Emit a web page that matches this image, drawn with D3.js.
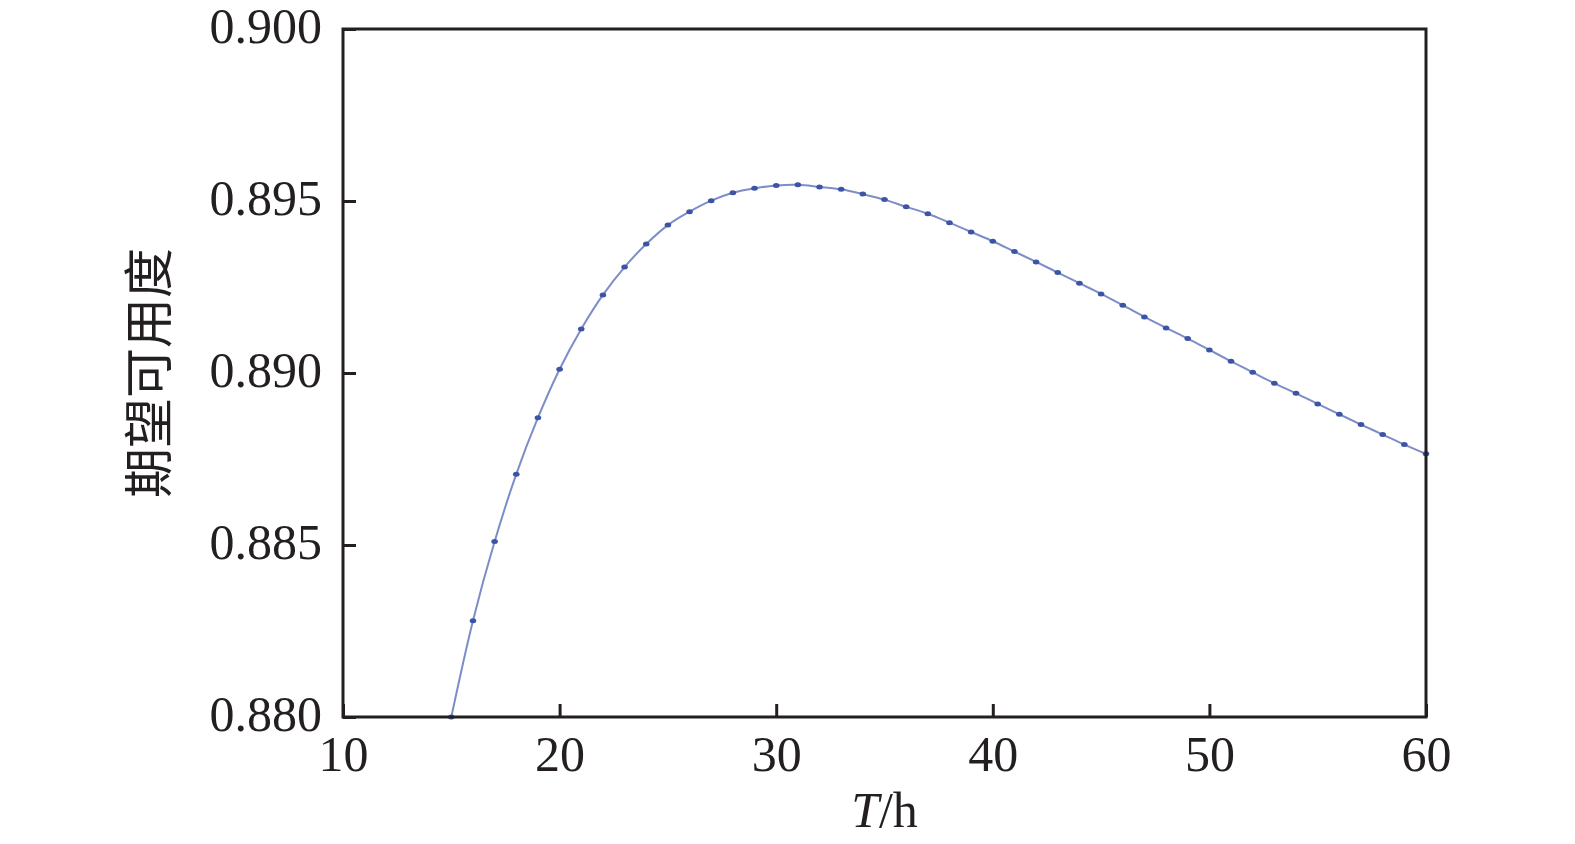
<!DOCTYPE html>
<html>
<head>
<meta charset="utf-8">
<script src="https://cdn.jsdelivr.net/npm/d3@7.9.0/dist/d3.min.js"></script>
<style>
  body { margin: 0; background: #fff; }
  svg { display: block; }
</style>
</head>
<body>
<div id="chart"></div>
<script>
// T in hours, expected availability
const hours = [15, 16, 17, 18, 19, 20, 21, 22, 23, 24, 25, 26, 27, 28, 29, 30,
  31, 32, 33, 34, 35, 36, 37, 38, 39, 40, 41, 42, 43, 44, 45, 46, 47, 48, 49, 50,
  51, 52, 53, 54, 55, 56, 57, 58, 59, 60];
const availability = [0.88000, 0.88280, 0.88510, 0.88706, 0.88870, 0.89011,
  0.89128, 0.89227, 0.89308, 0.89375, 0.89430, 0.89469, 0.89501, 0.89524,
  0.89537, 0.89545, 0.89547, 0.89541, 0.89534, 0.89520, 0.89504, 0.89483,
  0.89463, 0.89437, 0.89410, 0.89383, 0.89353, 0.89323, 0.89292, 0.89261,
  0.89230, 0.89197, 0.89163, 0.89131, 0.89100, 0.89067, 0.89034, 0.89002,
  0.88970, 0.88941, 0.88910, 0.88880, 0.88850, 0.88821, 0.88792, 0.88765];
const xTicks = [10, 20, 30, 40, 50, 60];
const yTicks = [0.880, 0.885, 0.890, 0.895, 0.900];

const width = 1575;
const height = 844;
const margin = { top: 29, right: 149, bottom: 127, left: 343 };

const points = hours.map((t, i) => ({ t, a: availability[i] }));

const svg = d3.select('#chart')
  .append('svg')
  .attr('width', width)
  .attr('height', height);

const xScale = d3.scaleLinear()
  .domain([10, 60])
  .range([margin.left, width - margin.right]);

const yScale = d3.scaleLinear()
  .domain([0.880, 0.900])
  .range([height - margin.bottom, margin.top]);

const serif = '"Liberation Serif", "DejaVu Serif", serif';

// curve first, frame drawn on top
const line = d3.line()
  .x(d => xScale(d.t))
  .y(d => yScale(d.a))
  .curve(d3.curveCatmullRom);

svg.append('path')
  .datum(points)
  .attr('fill', 'none')
  .attr('stroke', '#7c8dc8')
  .attr('stroke-width', 2)
  .attr('d', line);

svg.append('g')
  .selectAll('ellipse')
  .data(points)
  .join('ellipse')
  .attr('cx', d => xScale(d.t))
  .attr('cy', d => yScale(d.a))
  .attr('rx', 3.3)
  .attr('ry', 2.5)
  .attr('fill', '#3b54a4');

// axes with inward ticks
const xAxis = d3.axisBottom(xScale)
  .tickValues(xTicks)
  .tickSize(-13)
  .tickPadding(18)
  .tickFormat(d3.format('d'));

const gx = svg.append('g')
  .attr('transform', `translate(0, ${height - margin.bottom})`)
  .call(xAxis);

const yAxis = d3.axisLeft(yScale)
  .tickValues(yTicks)
  .tickSize(-13)
  .tickPadding(21)
  .tickFormat(d3.format('.3f'));

const gy = svg.append('g')
  .attr('transform', `translate(${margin.left}, 0)`)
  .call(yAxis);

[gx, gy].forEach(g => {
  g.select('.domain').remove();
  g.selectAll('.tick line').attr('stroke', '#231f20').attr('stroke-width', 3);
  g.selectAll('.tick text')
    .attr('fill', '#231f20')
    .style('font-family', serif)
    .style('font-size', '50px');
});
gx.selectAll('.tick text').attr('dy', '0.71em');
gy.selectAll('.tick text').attr('dy', '0.26em');

// frame
svg.append('rect')
  .attr('x', margin.left)
  .attr('y', margin.top)
  .attr('width', width - margin.left - margin.right)
  .attr('height', height - margin.top - margin.bottom)
  .attr('fill', 'none')
  .attr('stroke', '#231f20')
  .attr('stroke-width', 3);

// axis titles
const xTitle = svg.append('text')
  .attr('x', (margin.left + width - margin.right) / 2)
  .attr('y', 827)
  .attr('text-anchor', 'middle')
  .attr('fill', '#231f20')
  .style('font-family', serif)
  .style('font-size', '50px');
xTitle.append('tspan').style('font-style', 'italic').text('T');
xTitle.append('tspan').text('/h');

svg.append('text')
  .attr('transform', `translate(167, ${(margin.top + height - margin.bottom) / 2}) rotate(-90)`)
  .attr('text-anchor', 'middle')
  .attr('fill', '#231f20')
  .style('font-family', '"Noto Sans CJK SC", sans-serif')
  .style('font-size', '50px')
  .text('期望可用度');
</script>
</body>
</html>
